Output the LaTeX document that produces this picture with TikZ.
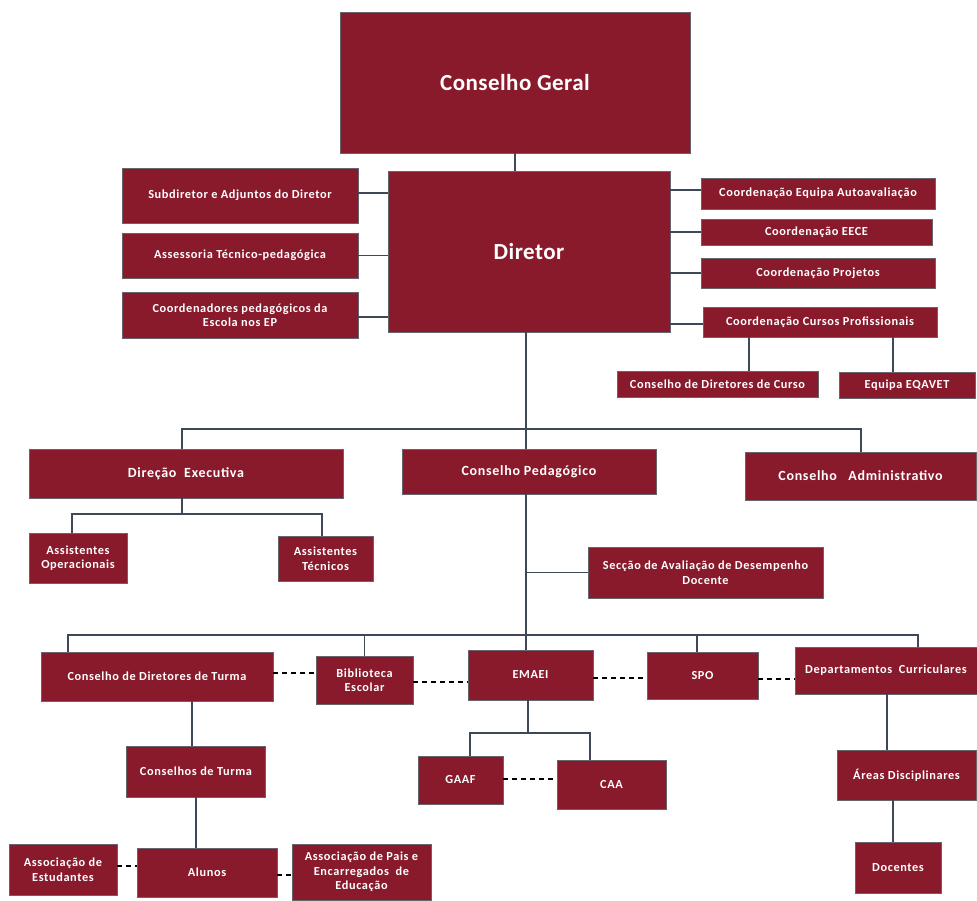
\documentclass[tikz,border=0pt]{standalone}
\usepackage{fontspec}
\setmainfont{Carlito}
\newfontfamily\boxfont{Carlito}[LetterSpace=5]
\newfontfamily\bigfont{Carlito}[LetterSpace=2]
\definecolor{boxred}{RGB}{137,26,44}
\definecolor{boxedge}{RGB}{105,100,108}
\definecolor{conncol}{RGB}{62,72,88}
\tikzset{
  box/.style={rectangle, fill=boxred, draw=boxedge, line width=0.8pt, text=white,
    font=\boxfont\bfseries\fontsize{12.3}{14.5}\selectfont, align=center, inner sep=1pt},
  midbox/.style={box, font=\boxfont\bfseries\fontsize{14}{16.5}\selectfont},
  bigbox/.style={box, font=\bigfont\bfseries\fontsize{23}{27}\selectfont},
  conn/.style={draw=conncol, line width=1.5pt},
  dconn/.style={draw=black, line width=1.5pt, dash pattern=on 5pt off 4pt},
}
\newcommand{\bx}[7]{% style, name, cx, cy, w, h, text
  \node[#1, minimum width=#5, minimum height=#6] (#2) at (#3,#4) {#7};}
\begin{document}
\begin{tikzpicture}[x=1pt,y=-1pt]
\useasboundingbox[fill=white] (0,0) rectangle (977,901);
% boxes
\bx{bigbox}{cg}{515}{82.5}{350}{141}{Conselho Geral}
\bx{bigbox}{dir}{529}{251.5}{282}{161}{Diretor}
\bx{box}{sub}{240}{195.5}{236}{55}{Subdiretor e Adjuntos do Diretor}
\bx{box}{ass}{240}{255.5}{236}{45}{Assessoria Técnico-pedagógica}
\bx{box}{cped}{240}{315}{236}{46}{Coordenadores pedagógicos da\\Escola nos EP}
\bx{box}{cea}{818}{193.5}{234}{31}{Coordenação Equipa Autoavaliação}
\bx{box}{ceece}{816.5}{232}{231}{26}{Coordenação EECE}
\bx{box}{cproj}{818}{273}{234}{30}{Coordenação Projetos}
\bx{box}{ccp}{820}{322}{234}{30}{Coordenação Cursos Profissionais}
\bx{box}{cdc}{717.5}{384}{201}{26}{Conselho de Diretores de Curso}
\bx{box}{eqavet}{907}{385}{136}{26}{Equipa EQAVET}
\bx{midbox}{de}{186}{473.5}{314}{49}{Direção\ \ Executiva}
\bx{midbox}{cp}{529}{471.5}{254}{45}{Conselho Pedagógico}
\bx{midbox}{ca}{860.5}{476}{231}{48}{Conselho\ \ \ Administrativo}
\bx{box}{aop}{78}{558}{98}{50}{Assistentes\\Operacionais}
\bx{box}{atec}{325.5}{558.5}{95}{45}{Assistentes\\Técnicos}
\bx{box}{sec}{705.5}{572.5}{235}{51}{Secção de Avaliação de Desempenho\\Docente}
\bx{box}{cdt}{157}{676.5}{232}{49}{Conselho de Diretores de Turma}
\bx{box}{bib}{364.5}{680}{97}{48}{Biblioteca\\Escolar}
\bx{box}{emaei}{530.5}{675}{125}{50}{EMAEI}
\bx{box}{spo}{702.5}{675.5}{111}{47}{SPO}
\bx{box}{dcur}{886}{670.5}{182}{47}{Departamentos\ \ Curriculares}
\bx{box}{gaaf}{460.5}{780}{85}{48}{GAAF}
\bx{box}{caa}{611.5}{784.5}{109}{49}{CAA}
\bx{box}{ct}{196}{771.5}{139}{51}{Conselhos de Turma}
\bx{box}{alunos}{207}{872.5}{140}{49}{Alunos}
\bx{box}{aest}{63}{869.5}{108}{51}{Associação de\\Estudantes}
\bx{box}{apee}{361.5}{872}{139}{56}{Associação de Pais e\\Encarregados\ \ de\\Educação}
\bx{box}{areas}{906.5}{775}{139}{50}{Áreas Disciplinares}
\bx{box}{doc}{898}{867.5}{86}{51}{Docentes}
% junction coordinates
\coordinate (b1) at (526,429);
\coordinate (b1l) at (182,429);
\coordinate (b1r) at (861,429);
\coordinate (j1) at (182,514);
\coordinate (j1l) at (72,514);
\coordinate (j1r) at (322,514);
\coordinate (b2) at (526,635);
\coordinate (b2l) at (68,635);
\coordinate (b2s) at (697,635);
\coordinate (b2r) at (918,635);
\coordinate (j3) at (528,733);
\coordinate (j3l) at (470,733);
\coordinate (j3r) at (590,733);
% top connectors
\draw[conn] (cg.south) -- (cg.south |- dir.north);
\draw[conn] ([yshift=2.5]sub.east) -- ([yshift=2.5]sub.east -| dir.west);
\draw[conn] (ass.east) -- (ass.east -| dir.west);
\draw[conn] ([yshift=-2]cped.east) -- ([yshift=-2]cped.east -| dir.west);
\draw[conn] ([yshift=3.5]cea.west) -- ([yshift=3.5]cea.west -| dir.east);
\draw[conn] (ceece.west) -- (ceece.west -| dir.east);
\draw[conn] (cproj.west) -- (cproj.west -| dir.east);
\draw[conn] ([yshift=-2]ccp.west) -- ([yshift=-2]ccp.west -| dir.east);
\draw[conn] ([xshift=31.5]cdc.north) -- ([xshift=31.5]cdc.north |- ccp.south);
\draw[conn] ([xshift=-14]eqavet.north) -- ([xshift=-14]eqavet.north |- ccp.south);
% main bus
\draw[conn] (b1 |- dir.south) -- (b1) -- (b1 |- cp.north);
\draw[conn] (b1l |- de.north) -- (b1l) -- (b1r) -- (b1r |- ca.north);
\draw[conn] (j1 |- de.south) -- (j1);
\draw[conn] (j1l |- aop.north) -- (j1l) -- (j1r) -- (j1r |- atec.north);
\draw[conn] (b2 |- cp.south) -- (b2) -- (b2 |- emaei.north);
\draw[conn] (sec.west) -- (sec.west -| b2);
\draw[conn] (b2l |- cdt.north) -- (b2l) -- (b2r) -- (b2r |- dcur.north);
\draw[conn] (bib.north |- b2) -- (bib.north);
\draw[conn] (b2s) -- (b2s |- spo.north);
\draw[conn] (j3 |- emaei.south) -- (j3);
\draw[conn] (j3l |- gaaf.north) -- (j3l) -- (j3r) -- (j3r |- caa.north);
\draw[conn] ([xshift=-4]ct.north) -- ([xshift=-4]ct.north |- cdt.south);
\draw[conn] (ct.south) -- (ct.south |- alunos.north);
\draw[conn] ([xshift=1]dcur.south) -- ([xshift=1]dcur.south |- areas.north);
\draw[conn] ([xshift=-5]doc.north) -- ([xshift=-5]doc.north |- areas.south);
% dashed links
\draw[dconn] ([yshift=3.5]cdt.east) -- ([yshift=3.5]cdt.east -| bib.west);
\draw[dconn] ([yshift=-2]bib.east) -- ([yshift=-2]bib.east -| emaei.west);
\draw[dconn] ([yshift=-3]emaei.east) -- ([yshift=-3]emaei.east -| spo.west);
\draw[dconn] ([yshift=-3.5]spo.east) -- ([yshift=-3.5]spo.east -| dcur.west);
\draw[dconn] ([yshift=1]gaaf.east) -- ([yshift=1]gaaf.east -| caa.west);
\draw[dconn] ([yshift=3.5]aest.east) -- ([yshift=3.5]aest.east -| alunos.west);
\draw[dconn] ([yshift=-2.5]alunos.east) -- ([yshift=-2.5]alunos.east -| apee.west);
\end{tikzpicture}
\end{document}
